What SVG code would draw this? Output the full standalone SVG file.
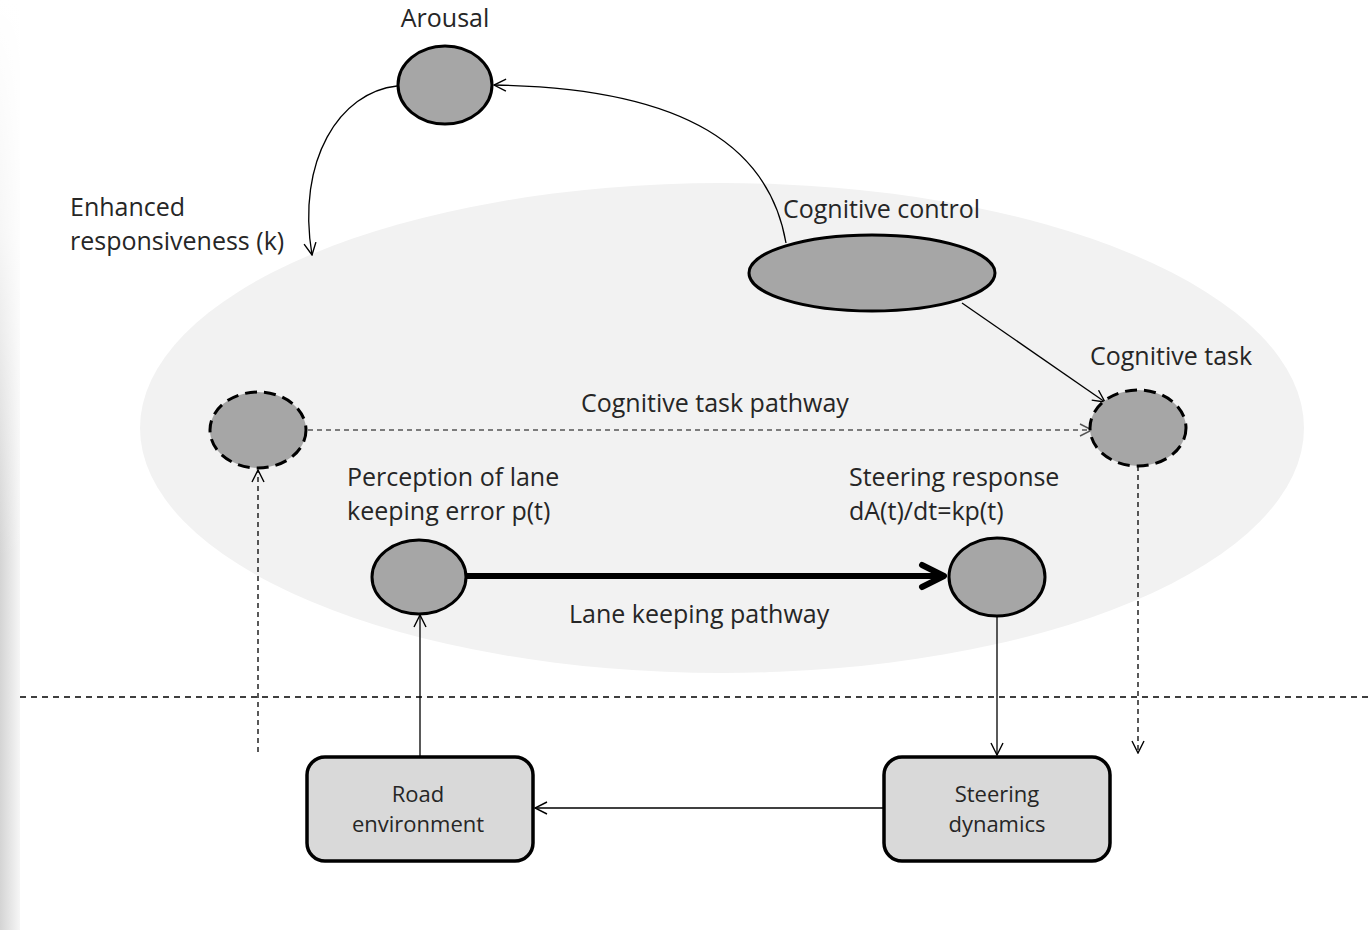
<svg xmlns="http://www.w3.org/2000/svg" width="1368" height="930" viewBox="0 0 1368 930">
<defs>
<linearGradient id="edge" x1="0" y1="0" x2="1" y2="0">
<stop offset="0" stop-color="#d4d4d4"/>
<stop offset="1" stop-color="#f6f6f6"/>
</linearGradient>
<linearGradient id="edgev" x1="0" y1="0" x2="0" y2="1">
<stop offset="0" stop-color="#ffffff" stop-opacity="1"/>
<stop offset="0.25" stop-color="#ffffff" stop-opacity="0.8"/>
<stop offset="0.6" stop-color="#ffffff" stop-opacity="0"/>
</linearGradient>
<marker id="open" viewBox="0 0 14 14" refX="13" refY="7" markerWidth="14" markerHeight="14" markerUnits="userSpaceOnUse" orient="auto">
<path d="M1,1 L13,7 L1,13" fill="none" stroke="#000" stroke-width="1.4"/>
</marker>
<marker id="opengray" viewBox="0 0 14 14" refX="13" refY="7" markerWidth="14" markerHeight="14" markerUnits="userSpaceOnUse" orient="auto">
<path d="M1,1 L13,7 L1,13" fill="none" stroke="#555" stroke-width="1.4"/>
</marker>
<marker id="thick" viewBox="0 0 30 30" refX="27" refY="15" markerWidth="30" markerHeight="30" markerUnits="userSpaceOnUse" orient="auto">
<path d="M5,4 L27,15 L5,26" fill="none" stroke="#000" stroke-width="6" stroke-linecap="round" stroke-linejoin="round"/>
</marker>
</defs>
<style>
.lbl{font-family:"Open Sans","Noto Sans",sans-serif;font-size:25px;fill:#262626}
.box{font-family:"Open Sans","Noto Sans",sans-serif;font-size:22px;fill:#262626;text-anchor:middle}
.node{fill:#a6a6a6;stroke:#000;stroke-width:3}
.dnode{fill:#a6a6a6;stroke:#000;stroke-width:3;stroke-dasharray:12 7}
.rbox{fill:#d9d9d9;stroke:#000;stroke-width:3.5}
.ln{fill:none;stroke:#000;stroke-width:1.3}
.dash{fill:none;stroke:#000;stroke-width:1.3;stroke-dasharray:5 4}
</style>
<rect x="0" y="0" width="1368" height="930" fill="#ffffff"/>
<rect x="0" y="0" width="20" height="930" fill="url(#edge)"/>
<rect x="0" y="0" width="20" height="930" fill="url(#edgev)"/>
<g id="background">
<ellipse cx="722" cy="428" rx="582" ry="245" fill="#f2f2f2"/>
<line x1="20" y1="697" x2="1368" y2="697" stroke="#000" stroke-width="1.3" stroke-dasharray="6 5"/>
</g>
<g id="connectors">
<path class="ln" d="M397,86 C340,92 296,160 312,255" marker-end="url(#open)"/>
<path class="ln" d="M786,243 C770,150 690,88 494,85" marker-end="url(#open)"/>
<line class="ln" x1="962" y1="303" x2="1105" y2="402" marker-end="url(#open)"/>
<line x1="308" y1="430" x2="1092" y2="430" fill="none" stroke="#555" stroke-width="1.3" stroke-dasharray="5 4" marker-end="url(#opengray)"/>
<line class="dash" x1="258" y1="752" x2="258" y2="470" marker-end="url(#open)"/>
<line x1="467" y1="576" x2="944" y2="576" stroke="#000" stroke-width="6" marker-end="url(#thick)"/>
<line class="ln" x1="420" y1="756" x2="420" y2="615" marker-end="url(#open)"/>
<line class="ln" x1="997" y1="616" x2="997" y2="755" marker-end="url(#open)"/>
<line class="dash" x1="1138" y1="466" x2="1138" y2="753" marker-end="url(#open)"/>
<line class="ln" x1="884" y1="808" x2="535" y2="808" stroke-width="2" marker-end="url(#open)"/>
</g>
<g id="arousal">
<ellipse class="node" cx="445" cy="85" rx="47" ry="39"/>
<text class="lbl" x="445" y="27" text-anchor="middle">Arousal</text>
</g>
<g id="enhanced-label">
<text class="lbl" x="70" y="216">Enhanced</text>
<text class="lbl" x="70" y="250">responsiveness (k)</text>
</g>
<g id="cognitive-control">
<ellipse class="node" cx="872" cy="273" rx="123" ry="38"/>
<text class="lbl" x="783" y="218">Cognitive control</text>
</g>
<g id="cognitive-task-source">
<ellipse class="dnode" cx="258" cy="430" rx="48" ry="38"/>
</g>
<g id="cognitive-task">
<ellipse class="dnode" cx="1138" cy="428" rx="48" ry="38"/>
<text class="lbl" x="1090" y="365">Cognitive task</text>
</g>
<g id="pathway-label">
<text class="lbl" x="581" y="412">Cognitive task pathway</text>
</g>
<g id="perception">
<ellipse class="node" cx="419" cy="577" rx="47" ry="37"/>
<text class="lbl" x="347" y="486">Perception of lane</text>
<text class="lbl" x="347" y="520">keeping error p(t)</text>
</g>
<g id="steering-response">
<ellipse class="node" cx="997" cy="577" rx="48" ry="39"/>
<text class="lbl" x="849" y="486">Steering response</text>
<text class="lbl" x="849" y="520">dA(t)/dt=kp(t)</text>
</g>
<g id="lane-label">
<text class="lbl" x="569" y="623">Lane keeping pathway</text>
</g>
<g id="road-environment">
<rect class="rbox" x="307" y="757" width="226" height="104" rx="18"/>
<text class="box" x="418" y="802">Road</text>
<text class="box" x="418" y="832">environment</text>
</g>
<g id="steering-dynamics">
<rect class="rbox" x="884" y="757" width="226" height="104" rx="18"/>
<text class="box" x="997" y="802">Steering</text>
<text class="box" x="997" y="832">dynamics</text>
</g>
</svg>
